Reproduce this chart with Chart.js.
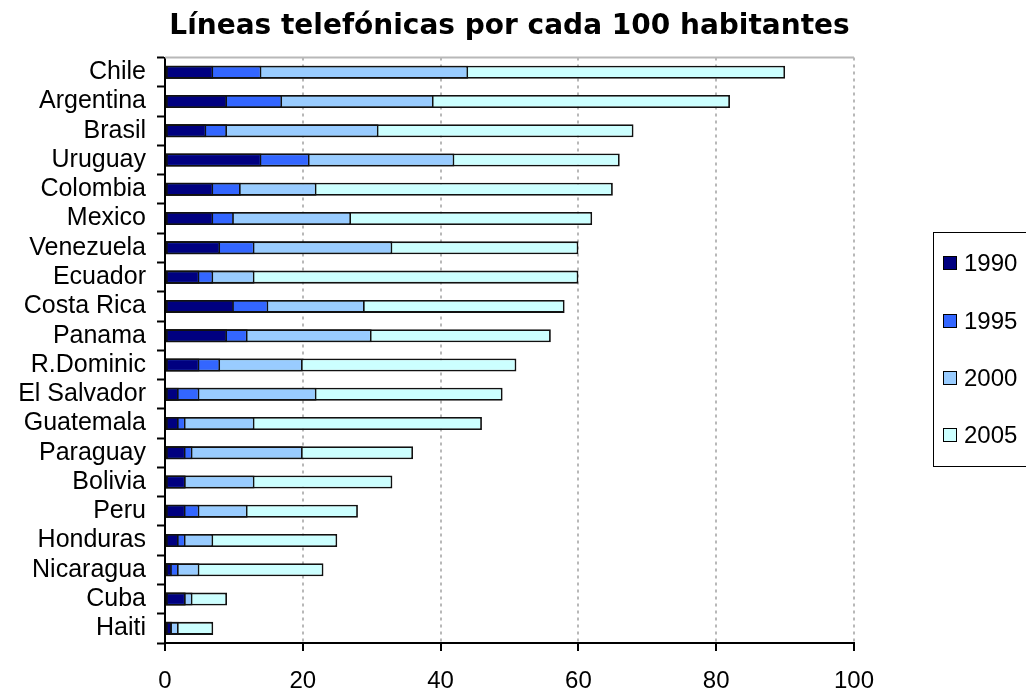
<!DOCTYPE html>
<html>
<head>
<meta charset="utf-8">
<script src="https://cdn.jsdelivr.net/npm/chart.js@4/dist/chart.umd.min.js"></script>
<style>
html,body{margin:0;padding:0;background:#fff;}
#wrap{width:1026px;height:694px;position:relative;}
canvas{display:block;}
</style>
</head>
<body>
<div id="wrap"><canvas id="c" width="1026" height="694"></canvas></div>
<script>
// Categories (top to bottom)
const countries = ["Chile","Argentina","Brasil","Uruguay","Colombia","Mexico","Venezuela","Ecuador","Costa Rica","Panama","R.Dominic","El Salvador","Guatemala","Paraguay","Bolivia","Peru","Honduras","Nicaragua","Cuba","Haiti"];
// Series values (each bar drawn from 0, overlapping)
const y1990 = [7,9,6,14,7,7,8,5,10,9,5,2,2,3,3,3,2,1,3,1];
const y1995 = [14,17,9,21,11,10,13,7,15,12,8,5,3,4,3,5,3,2,3,1];
const y2000 = [44,39,31,42,22,27,33,13,29,30,20,22,13,20,13,12,7,5,4,2];
const y2005 = [90,82,68,66,65,62,60,60,58,56,51,49,46,36,33,28,25,23,9,7];
const seriesLabels = ["1990","1995","2000","2005"];
const xTicks = [0,20,40,60,80,100];

const colors = ["#000080","#3366FF","#99CCFF","#CCFFFF"];
const FONT = "'Liberation Sans', Arial, sans-serif";

const legendBox = {
  id: 'legendBox',
  afterDraw(chart) {
    const ctx = chart.ctx;
    ctx.save();
    ctx.strokeStyle = '#000';
    ctx.lineWidth = 1;
    ctx.strokeRect(933.5, 232.5, 100, 234);
    const ys = [263, 321, 378, 435];
    chart.data.datasets.forEach((ds, i) => {
      ctx.fillStyle = ds.backgroundColor;
      ctx.fillRect(943, ys[i] - 7, 14, 14);
      ctx.strokeStyle = '#000';
      ctx.strokeRect(943.5, ys[i] - 6.5, 13, 13);
      ctx.fillStyle = '#000';
      ctx.font = '24px ' + FONT;
      ctx.textBaseline = 'middle';
      ctx.textAlign = 'left';
      ctx.fillText(ds.label, 964, ys[i] + 1);
    });
    ctx.restore();
  }
};

const topLine = {
  id: 'topLine',
  beforeDatasetsDraw(chart) {
    const {ctx, chartArea} = chart;
    ctx.save();
    ctx.strokeStyle = '#b8b8b8';
    ctx.lineWidth = 2;
    ctx.beginPath();
    ctx.moveTo(chartArea.left, chartArea.top);
    ctx.lineTo(chartArea.right, chartArea.top);
    ctx.stroke();
    ctx.restore();
  }
};

const seriesData = [y1990, y1995, y2000, y2005];
const datasets = seriesLabels.map((lab, i) => ({
  label: lab,
  data: seriesData[i],
  backgroundColor: colors[i],
  borderColor: '#111',
  borderWidth: 1.8,
  borderSkipped: false,
  grouped: false,
  categoryPercentage: 1.0,
  barPercentage: 0.445
}));

new Chart(document.getElementById('c'), {
  type: 'bar',
  data: { labels: countries, datasets },
  plugins: [topLine, legendBox],
  options: {
    indexAxis: 'y',
    responsive: false,
    animation: false,
    devicePixelRatio: 1,
    layout: { padding: { left: 0, right: 172, top: 0, bottom: 0 } },
    plugins: {
      legend: { display: false },
      tooltip: { enabled: false },
      title: {
        display: true,
        fullSize: false,
        text: 'Líneas telefónicas por cada 100 habitantes',
        color: '#000',
        font: { family: "'DejaVu Sans', sans-serif", weight: 'bold', size: 28 },
        padding: { top: 10, bottom: 14 }
      }
    },
    scales: {
      x: {
        type: 'linear',
        min: 0, max: 100,
        afterBuildTicks(scale) { scale.ticks = xTicks.map(v => ({ value: v })); },
        afterFit(scale) { scale.height = 51; },
        ticks: {
          color: '#000',
          font: { family: FONT, size: 24 },
          padding: 16
        },
        grid: {
          color: '#b8b8b8',
          lineWidth: 2,
          tickColor: '#000',
          tickWidth: 2,
          tickLength: 8,
          tickBorderDash: []
        },
        border: { display: true, color: '#000', width: 2, dash: [3, 4] }
      },
      y: {
        type: 'category',
        afterFit(scale) { scale.width = 165; },
        ticks: {
          color: '#000',
          font: { family: FONT, size: 25 },
          padding: 11,
          autoSkip: false
        },
        grid: {
          display: true,
          offset: true,
          drawOnChartArea: false,
          drawTicks: true,
          tickLength: 8,
          tickColor: '#000',
          tickWidth: 2,
          color: '#000'
        },
        border: { display: true, color: '#000', width: 2 }
      }
    }
  }
});
</script>
</body>
</html>
